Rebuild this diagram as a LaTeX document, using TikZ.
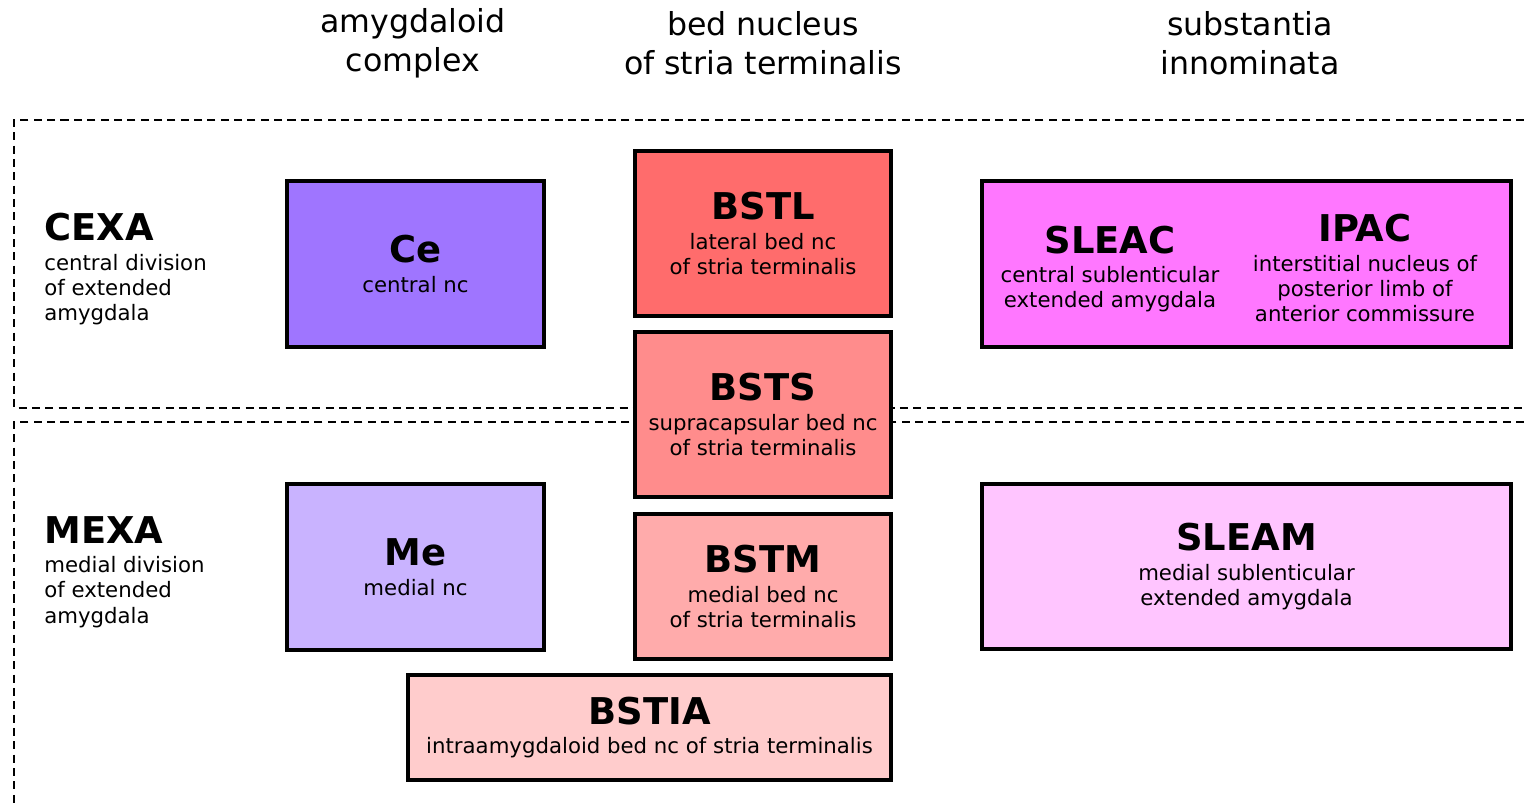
\documentclass[tikz,border=0pt]{standalone}
\usepackage{fontspec}
\setmainfont{DejaVu Sans}
\definecolor{ceFill}{HTML}{9F75FF}
\definecolor{meFill}{HTML}{C9B3FF}
\definecolor{bstlFill}{HTML}{FF6C6C}
\definecolor{bstsFill}{HTML}{FF8C8C}
\definecolor{bstmFill}{HTML}{FFABAB}
\definecolor{bstiaFill}{HTML}{FFCCCC}
\definecolor{siFill}{HTML}{FF77FF}
\definecolor{sleamFill}{HTML}{FFC5FF}
\newcommand{\hfont}{\fontsize{18}{22.2}\selectfont}
\newcommand{\tfont}{\fontsize{21}{22}\selectfont\bfseries}
\newcommand{\sfont}{\fontsize{12.1}{14.3}\selectfont}
\newcommand{\nuc}[2]{{\tfont #1}\\[2.5pt]#2}
\tikzset{
  nucbox/.style={draw=black,line width=1.8pt,align=center,font=\sfont,inner sep=0pt},
  zone/.style={line width=1.4pt,dash pattern=on 4.6pt off 3pt},
  division/.style={align=left,anchor=west,font=\sfont,inner sep=0pt},
  header/.style={align=center,font=\hfont,inner sep=0pt}
}
\begin{document}
\begin{tikzpicture}[x=0.02cm,y=-0.02cm]
\useasboundingbox (0,0) rectangle (1524,807);
% column headers
\node[header] (hamy) at (413,43.5) {amygdaloid\\complex};
\node[header] (hbst) at (763,43.5) {bed nucleus\\of stria terminalis};
\node[header] (hsi) at (1250,43.5) {substantia\\innominata};
% divisions
\draw[zone] (1524,120) -- (14,120) -- (14,408) -- (1524,408);
\draw[zone] (1524,422) -- (14,422) -- (14,807);
\node[division] (cexa) at (44,269) {\nuc{CEXA}{central division\\of extended\\amygdala}};
\node[division] (mexa) at (44,572) {\nuc{MEXA}{medial division\\of extended\\amygdala}};
% amygdaloid complex
\node[nucbox,fill=ceFill,minimum width=5.14cm,minimum height=3.32cm] (ce) at (415.5,264) {\nuc{Ce}{central nc}};
\node[nucbox,fill=meFill,minimum width=5.14cm,minimum height=3.32cm] (me) at (415.5,567) {\nuc{Me}{medial nc}};
% bed nucleus
\node[nucbox,fill=bstlFill,minimum width=5.12cm,minimum height=3.3cm] (bstl) at (763,233.5) {\nuc{BSTL}{lateral bed nc\\of stria terminalis}};
\node[nucbox,fill=bstsFill,minimum width=5.12cm,minimum height=3.3cm] (bsts) at (763,414.5) {\nuc{BSTS}{supracapsular bed nc\\of stria terminalis}};
\node[nucbox,fill=bstmFill,minimum width=5.12cm,minimum height=2.9cm] (bstm) at (763,586.5) {\nuc{BSTM}{medial bed nc\\of stria terminalis}};
\node[nucbox,fill=bstiaFill,minimum width=9.66cm,minimum height=2.1cm] (bstia) at (649.5,727.5) {\nuc{BSTIA}{intraamygdaloid bed nc of stria terminalis}};
% substantia innominata
\node[nucbox,fill=siFill,minimum width=10.58cm,minimum height=3.32cm] (si) at (1246.5,264) {};
\node[align=center,font=\sfont,inner sep=0pt] (sleac) at (1110,269) {\nuc{SLEAC}{central sublenticular\\extended amygdala}};
\node[align=center,font=\sfont,inner sep=0pt] (ipac) at (1365,268) {\nuc{IPAC}{interstitial nucleus of\\posterior limb of\\anterior commissure}};
\node[nucbox,fill=sleamFill,minimum width=10.58cm,minimum height=3.3cm] (sleam) at (1246.5,566.5) {\nuc{SLEAM}{medial sublenticular\\extended amygdala}};
\end{tikzpicture}
\end{document}
